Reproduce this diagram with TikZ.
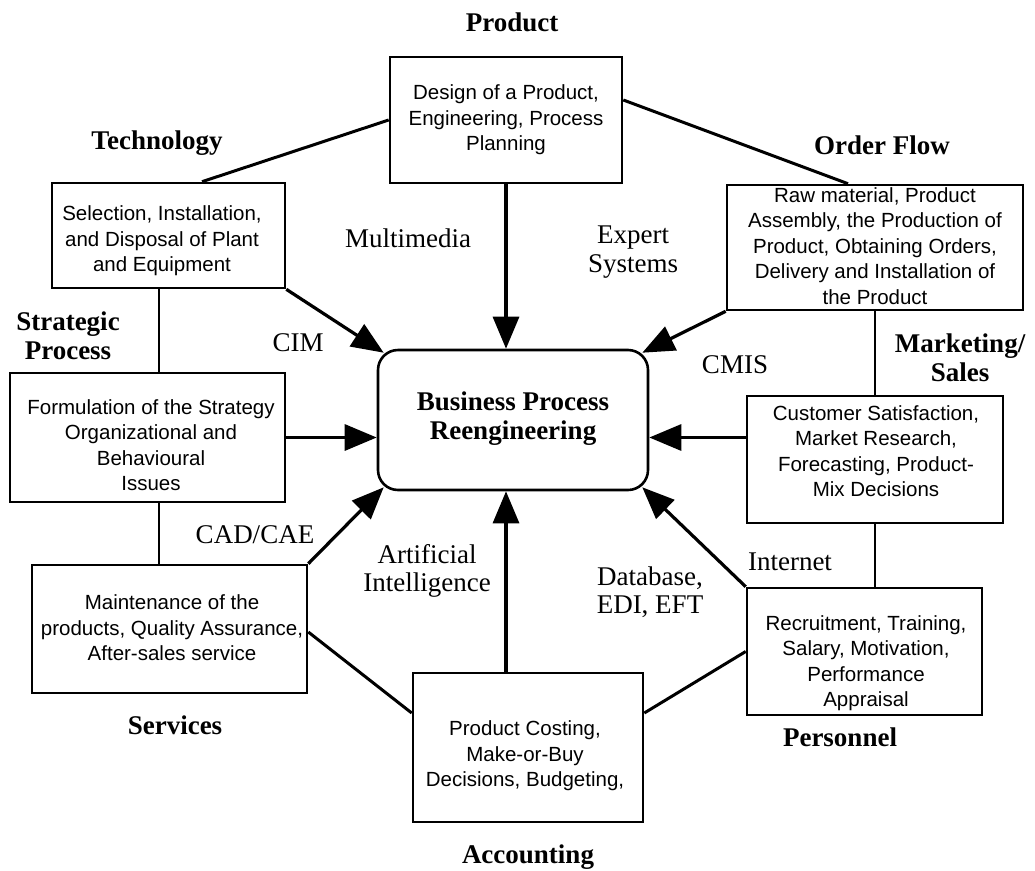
\documentclass[tikz,border=0pt]{standalone}
\usepackage{fontspec}
\setmainfont{Liberation Serif}
\newfontfamily\boxfont{Liberation Sans}
\usetikzlibrary{arrows.meta}

\tikzset{
  box/.style={draw, line width=2.6pt, inner sep=0pt},
  core/.style={draw, line width=2.6pt, inner sep=0pt, rounded corners=20pt},
  boxtext/.style={font=\boxfont\fontsize{20.5}{25.5}\selectfont, align=center, inner sep=0pt},
  area/.style={font=\bfseries\fontsize{27}{28.5}\selectfont, align=center, inner sep=0pt},
  tool/.style={font=\fontsize{27}{28.5}\selectfont, align=center, inner sep=0pt},
  link/.style={line width=3pt},
  thinlink/.style={line width=2pt},
  flow/.style={line width=3.2pt, -{Triangle[length=32pt,width=26pt]}},
}

\begin{document}
\begin{tikzpicture}[x=1pt,y=-1pt]
\fill[white] (0,0) rectangle (1035,870);
\useasboundingbox (0,0) rectangle (1035,870);

% central process
\node[core, minimum width=270pt, minimum height=140pt] (bpr) at (513,420) {};
\node[area] (bprt) at (513,418.5) {Business Process\\Reengineering};

% functional areas: frames
\node[box, minimum width=232pt, minimum height=126pt] (prod)  at (506,120)   {};
\node[box, minimum width=233pt, minimum height=105pt] (tech)  at (168.5,235.5) {};
\node[box, minimum width=296pt, minimum height=125pt] (order) at (875,247.5) {};
\node[box, minimum width=275pt, minimum height=129pt] (strat) at (147.5,437.5) {};
\node[box, minimum width=256pt, minimum height=127pt] (mkt)   at (875,459.5) {};
\node[box, minimum width=275pt, minimum height=128pt] (serv)  at (169.5,629) {};
\node[box, minimum width=235pt, minimum height=127pt] (pers)  at (864.5,651.5) {};
\node[box, minimum width=230pt, minimum height=149pt] (acct)  at (528,747.5) {};

% functional areas: contents
\node[boxtext] (prodt)  at (506,120)   {Design of a Product,\\Engineering, Process\\Planning};
\node[boxtext] (techt)  at (162,241)   {Selection, Installation,\\and Disposal of Plant\\and Equipment};
\node[boxtext] (ordert) at (875,246)   {Raw material, Product\\Assembly, the Production of\\Product, Obtaining Orders,\\Delivery and Installation of\\the Product};
\node[boxtext] (stratt) at (151,445)   {Formulation of the Strategy\\Organizational and\\Behavioural\\Issues};
\node[boxtext] (mktt)   at (876,451)   {Customer Satisfaction,\\Market Research,\\Forecasting, Product-\\Mix Decisions};
\node[boxtext] (servt)  at (172,628)   {Maintenance of the\\products, Quality Assurance,\\After-sales service};
\node[boxtext] (perst)  at (866,663)   {Recruitment, Training,\\Salary, Motivation,\\Performance\\Appraisal};
\node[boxtext] (acctt)  at (525,756)   {Product Costing,\\Make-or-Buy\\Decisions, Budgeting,};

% area titles
\node[area] (lprod)  at (512,22)  {Product};
\node[area] (ltech)  at (157,143) {Technology};
\node[area] (lorder) at (882,145) {Order Flow};
\node[area] (lstrat) at (68,336)  {Strategic\\Process};
\node[area] (lmkt)   at (960,358) {Marketing/\\Sales};
\node[area] (lserv)  at (175,725) {Services};
\node[area] (lpers)  at (840,737) {Personnel};
\node[area] (lacct)  at (528,857) {Accounting};

% enabling technologies
\node[tool] (multi)  at (408,238) {Multimedia};
\node[tool] (expert) at (633,252) {Expert\\Systems};
\node[tool] (cim)    at (298,343) {CIM};
\node[tool] (cmis)   at (735,365) {CMIS};
\node[tool] (cad)    at (255,535) {CAD/CAE};
\node[tool] (ai)     at (427,571) {Artificial\\Intelligence};
\node[tool] (db)     at (650,592) {Database,\\EDI, EFT};
\node[tool] (inet)   at (790,562) {Internet};

% ring of links between areas
\draw[link] (prod.west) -- ([xshift=33.5pt]tech.north);
\draw[link] ([yshift=20pt]prod.east) -- ([xshift=-27pt]order.north);
\draw[thinlink] ([xshift=-9.5pt]tech.south) -- ([xshift=11.5pt]strat.north);
\draw[thinlink] ([xshift=11.5pt]strat.south) -- ([xshift=-10.5pt]serv.north);
\draw[link] ([yshift=-3pt]serv.east) -- ([yshift=34.5pt]acct.west);
\draw[link] ([yshift=34.5pt]acct.east) -- (pers.west);
\draw[thinlink] (order.south) -- (mkt.north);
\draw[thinlink] (mkt.south) -- ([xshift=10.5pt]pers.north);

% flows into the central process
\draw[flow] (tech.south east) -- ([xshift=7pt,yshift=-4pt]bpr.north west);
\draw[flow] (prod.south) -- (prod.south |- bpr.north);
\draw[flow] (order.south west) -- ([xshift=-7pt,yshift=-4pt]bpr.north east);
\draw[flow] (strat.east) -- (strat.east -| bpr.west);
\draw[flow] (mkt.west |- strat.east) -- (bpr.east |- strat.east);
\draw[flow] (serv.north east) -- ([xshift=7pt,yshift=4pt]bpr.south west);
\draw[flow] (pers.north west) -- ([xshift=-7pt,yshift=4pt]bpr.south east);
\draw[flow] (prod.south |- acct.north) -- (prod.south |- bpr.south);
\end{tikzpicture}
\end{document}
